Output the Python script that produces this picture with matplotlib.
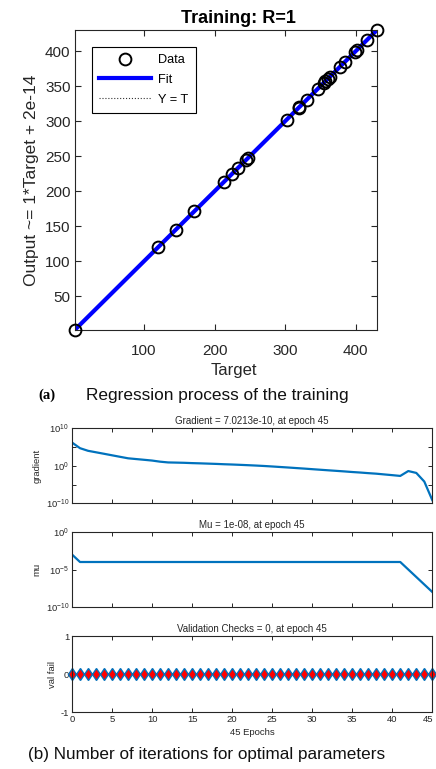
import matplotlib
matplotlib.use("Agg")
import matplotlib.pyplot as plt
import matplotlib.transforms as mtransforms
import numpy as np

plt.rcParams['font.family'] = ['Liberation Sans', 'DejaVu Sans']
plt.rcParams['mathtext.fontset'] = 'custom'
plt.rcParams['mathtext.rm'] = 'Liberation Sans'
plt.rcParams['mathtext.it'] = 'Liberation Sans'
plt.rcParams['axes.unicode_minus'] = False

# ---------------- data ----------------
targets = [2, 120, 145, 171.5, 213.5, 225, 233.5, 245, 247, 302, 319, 320,
           330.5, 346, 355, 357, 360, 363, 377, 384, 399, 401, 416, 430]
outputs = [2, 120, 145, 171.5, 213.5, 225, 233.5, 245, 247, 302, 319, 320,
           330.5, 346, 355, 357, 360, 363, 377, 384, 399, 401, 416, 430]
reg_ticks = [50, 100, 150, 200, 250, 300, 350, 400]
reg_xticks = [100, 200, 300, 400]

epochs = list(range(46))
gradient = [1.6e6, 5.0e4, 1.0e4, 4.0e3, 1.6e3, 6.3e2, 2.5e2, 1.0e2, 6.3e1, 4.0e1,
            2.5e1, 1.26e1, 7.9, 7.1, 6.3, 5.2, 4.5, 3.8, 3.2, 2.6,
            2.2, 1.8, 1.45, 1.15, 0.89, 0.66, 0.48, 0.35, 0.25, 0.18,
            0.126, 0.089, 0.063, 0.045, 0.032, 0.022, 0.016, 0.011, 0.0079, 0.005,
            0.0032, 0.002, 0.04, 0.0126, 6.3e-5, 7.0213e-10]
mu = [1e-3] + [1e-4] * 41 + [1e-5, 1e-6, 1e-7, 1e-8]
val_fail = [0] * 46
epoch_ticks = [0, 5, 10, 15, 20, 25, 30, 35, 40, 45]

W, H = 436, 769
fig = plt.figure(figsize=(W / 100, H / 100), dpi=100)


def box(l, r, t, b):
    return [l / W, (H - b) / H, (r - l) / W, (b - t) / H]


# ---------------- (a) regression ----------------
ax = fig.add_axes(box(74.7, 377, 30, 330))
ax.plot(targets, targets, ':', color='#333333', lw=0.8, label='Y = T', zorder=1)
ax.plot([min(targets), max(targets)], [min(targets), max(targets)], '-',
        color=(0, 0, 1), lw=3, label='Fit', zorder=2)
ax.plot(targets, outputs, 'o', mfc='none', mec='black', ms=8.5, mew=1.4,
        label='Data', zorder=3, clip_on=False)
ax.set_xlim(min(targets), max(targets))
ax.set_ylim(min(targets), max(targets))
ax.set_xticks(reg_xticks)
ax.set_yticks(reg_ticks)
ax.tick_params(direction='in', length=4, width=0.8, top=True, right=True,
               labelsize=11, colors='#262626')
ax.tick_params(axis='x', pad=10)
ax.tick_params(axis='y', pad=3)
for s in ax.spines.values():
    s.set_linewidth(0.8)
    s.set_color('#262626')
ax.set_title('Training: R=1', fontsize=13, fontweight='bold', pad=5, x=0.54)
ax.set_xlabel('Target', fontsize=12, color='#262626', labelpad=4, x=0.527)
ax.set_ylabel('Output ~= 1*Target + 2e-14', fontsize=12.5, color='#262626', labelpad=4)
h, lab = ax.get_legend_handles_labels()
order = [2, 1, 0]
leg = ax.legend([h[i] for i in order], [lab[i] for i in order],
                loc='upper left', bbox_to_anchor=((92 - 74.7) / 302.3, (330 - 47) / 300),
                borderaxespad=0, fancybox=False, edgecolor='black', framealpha=1,
                fontsize=9.2, handlelength=4.1, handletextpad=0.55, labelspacing=0.62,
                borderpad=0.55)
leg.get_frame().set_linewidth(0.8)

fig.text(38 / W, 1 - 395 / H, '(a)', family='Liberation Serif', fontweight='bold',
         fontsize=10.5, va='center', ha='left')
fig.text(86 / W, 1 - 395 / H, 'Regression process of the training', fontsize=12.4,
         va='center', ha='left', color='#111111')

# ---------------- (b) training state ----------------
blue = '#0072BD'
small = 6.8


def style(a):
    a.set_xlim(0, 45)
    a.set_xticks(epoch_ticks)
    a.tick_params(direction='in', length=3, width=0.7, top=True, right=True,
                  labelsize=small, colors='#262626', pad=2)
    a.tick_params(which='minor', length=0)
    for s in a.spines.values():
        s.set_linewidth(0.8)
        s.set_color('#262626')


ag = fig.add_axes(box(72, 432.3, 428.3, 503.3))
ag.semilogy(epochs, gradient, color=blue, lw=1.6)
ag.set_ylim(1e-10, 1e10)
ag.set_yticks([1e-10, 1e-5, 1e0, 1e5, 1e10])
ag.set_yticklabels([r'$10^{-10}$', '', r'$10^{0}$', '', r'$10^{10}$'])
style(ag)
ag.set_xticklabels([])
ag.set_title('Gradient = 7.0213e-10, at epoch 45', fontsize=7, pad=3, color='#262626')
ag.set_ylabel('gradient', fontsize=small, color='#262626', labelpad=3)

am = fig.add_axes(box(72, 432.3, 532, 607))
am.semilogy(epochs, mu, color=blue, lw=1.6)
am.set_ylim(1e-10, 1e0)
am.set_yticks([1e-10, 1e-5, 1e0])
am.set_yticklabels([r'$10^{-10}$', r'$10^{-5}$', r'$10^{0}$'])
style(am)
am.set_xticklabels([])
am.set_title('Mu = 1e-08, at epoch 45', fontsize=7, pad=3, color='#262626')
am.set_ylabel('mu', fontsize=small, color='#262626', labelpad=3)

av = fig.add_axes(box(72, 432.3, 636, 712))
av.plot(epochs, val_fail, '-d', color=blue, lw=1.2, mfc='red', mec=blue,
        ms=6.5, mew=1.0, clip_on=False)
av.set_ylim(-1, 1)
av.set_yticks([-1, 0, 1])
style(av)
av.set_title('Validation Checks = 0, at epoch 45', fontsize=7, pad=3, color='#262626')
av.set_ylabel('val fail', fontsize=small, color='#262626', labelpad=3)
av.set_xlabel('45 Epochs', fontsize=small, color='#262626', labelpad=3)
# keep the last tick label inside the figure
last = av.get_xticklabels()[-1]
last.set_transform(last.get_transform() +
                   mtransforms.ScaledTranslation(-4 / 100, 0, fig.dpi_scale_trans))

fig.text(28 / W, 1 - 755 / H, '(b) Number of iterations for optimal parameters',
         fontsize=12.3, va='center', ha='left', color='#111111')

fig.savefig('out.png', dpi=100, facecolor='white')
